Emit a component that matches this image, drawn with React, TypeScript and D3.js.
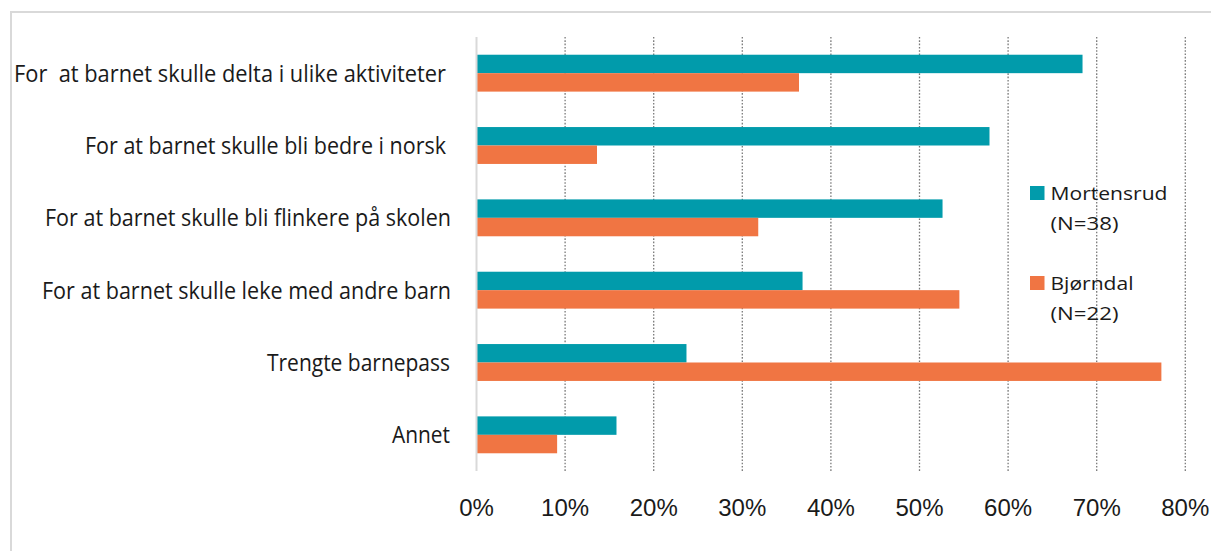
import React from "react";
import * as d3 from "d3";

const categories = [
  "For  at barnet skulle delta i ulike aktiviteter",
  "For at barnet skulle bli bedre i norsk",
  "For at barnet skulle bli flinkere på skolen",
  "For at barnet skulle leke med andre barn",
  "Trengte barnepass",
  "Annet",
];
const mortensrud = [68.4, 57.9, 52.6, 36.8, 23.7, 15.8];
const bjorndal = [36.4, 13.6, 31.8, 54.5, 77.3, 9.1];
const seriesNames = ["Mortensrud", "Bjørndal"];
const seriesSub = ["(N=38)", "(N=22)"];
const xTicks = [0, 10, 20, 30, 40, 50, 60, 70, 80];

// label footprints (left, right)
const labelLeft = [14, 85, 45, 42, 267, 392];
const labelRight = [446, 446, 451, 451, 450, 450];
const legendWidths = [[117, 68], [83, 68]];

const colors = ["#019BAB", "#F07543"];

export default function App() {
  const W = 1211, H = 551;
  const left = 476.5, right = 1185.3, top = 37, bottom = 471;
  const x = d3.scaleLinear().domain([0, 80]).range([left, right]);
  const y = d3.scaleBand<string>().domain(categories).range([top, bottom]).paddingInner(0.49).paddingOuter(0.245);
  const y1 = d3.scaleBand<string>().domain(seriesNames).range([0, y.bandwidth()]);
  const series = [mortensrud, bjorndal];

  return (
    <svg width={W} height={H} style={{ position: "absolute", left: 0, top: 0, background: "#fff" }}>
      <rect x={0} y={0} width={W} height={H} fill="#fff" />
      <rect x={11} y={12} width={1260} height={600} fill="none" stroke="#d9d9d9" strokeWidth={2} />
      {xTicks.slice(1).map((t) => (
        <line key={t} x1={x(t)} x2={x(t)} y1={top} y2={bottom} stroke="#7a7a7a" strokeWidth={1.3} strokeDasharray="1.6 1.7" />
      ))}
      {categories.map((c, i) =>
        series.map((s, j) => (
          <rect
            key={c + j}
            x={x(0)}
            y={(y(c) as number) + (y1(seriesNames[j]) as number)}
            width={x(s[i]) - x(0)}
            height={y1.bandwidth()}
            fill={colors[j]}
          />
        ))
      )}
      <line x1={x(0)} x2={x(0)} y1={top} y2={bottom} stroke="#d9d9d9" strokeWidth={2} />
      {categories.map((c, i) => (
        <text
          key={c}
          x={labelLeft[i]}
          y={(y(c) as number) + y.bandwidth() / 2 + 8.5}
          fontFamily="'Open Sans', sans-serif"
          fontSize={23}
          fill="#1a1a1a"
          textLength={labelRight[i] - labelLeft[i]}
          lengthAdjust="spacingAndGlyphs"
          style={{ whiteSpace: "pre" }}
        >
          {c}
        </text>
      ))}
      {xTicks.map((t) => (
        <text key={t} x={x(t)} y={516} textAnchor="middle" fontFamily="'Liberation Sans', Arial, sans-serif" fontSize={24} fill="#1a1a1a">
          {t}%
        </text>
      ))}
      {seriesNames.map((n, j) => (
        <g key={n} transform={`translate(1030, ${186 + j * 90})`}>
          <rect x={0} y={0} width={14.5} height={14} fill={colors[j]} />
          <text x={20.5} y={14} fontFamily="'Open Sans', sans-serif" fontSize={19} fill="#1a1a1a" textLength={legendWidths[j][0]} lengthAdjust="spacingAndGlyphs">
            {n}
          </text>
          <text x={20.5} y={44} fontFamily="'Open Sans', sans-serif" fontSize={19} fill="#1a1a1a" textLength={legendWidths[j][1]} lengthAdjust="spacingAndGlyphs">
            {seriesSub[j]}
          </text>
        </g>
      ))}
    </svg>
  );
}
